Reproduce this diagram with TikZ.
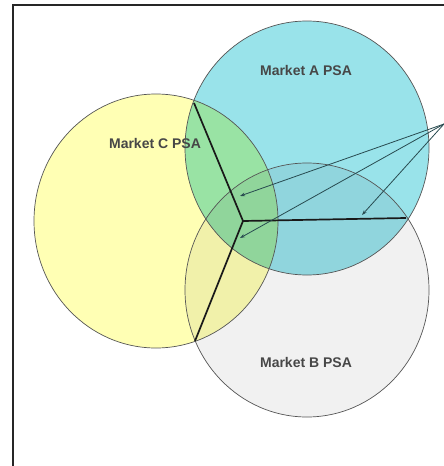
\documentclass[tikz,border=0pt]{standalone}
\usepackage{fontspec}
\setmainfont{Liberation Sans}
\usetikzlibrary{arrows.meta}
\definecolor{psacyan}{RGB}{142,224,232}
\definecolor{psayellow}{RGB}{255,255,180}
\definecolor{psagrey}{RGB}{241,241,241}
\definecolor{psaline}{RGB}{85,85,85}
\definecolor{psaarrow}{RGB}{40,75,80}

\begin{document}
\begin{tikzpicture}[x=1pt,y=-1pt,
  psalabel/.style={font=\fontsize{14}{16}\selectfont\bfseries,text=black!72},
  rim/.style={draw=psaline,line width=0.7pt},
  ridge/.style={line width=1.7pt,black!90},
  pointer/.style={line width=0.8pt,psaarrow,-{Stealth[length=5pt,width=3.5pt]}}]
\useasboundingbox (0,0) rectangle (444,466);
\fill[white] (0,0) rectangle (444,466);

% Frame
\draw[line width=2pt,black!85] (13,466) -- (13,5) -- (444,5);

% Centres of the PSA circles
\coordinate (cA) at (307,148);
\coordinate (cB) at (307,290);
\coordinate (cC) at (156,221);

% Filled areas
\begin{scope}[blend group=multiply]
\fill[psagrey] (cB) ellipse [x radius=122pt,y radius=127pt];
\fill[psayellow] (cC) ellipse [x radius=122pt,y radius=127pt];
\fill[psacyan,fill opacity=0.9] (cA) ellipse [x radius=122pt,y radius=127pt];
\end{scope}

% Outlines
\draw[rim] (cB) ellipse [x radius=122pt,y radius=127pt];
\draw[rim] (cC) ellipse [x radius=122pt,y radius=127pt];
\draw[rim] (cA) ellipse [x radius=122pt,y radius=127pt];

% Labels
\node[psalabel] (labA) at (306,70) {Market A PSA};
\node[psalabel] (labC) at (155,143) {Market C PSA};
\node[psalabel] (labB) at (306,362) {Market B PSA};

% Boundaries
\coordinate (hub) at (243,221);
\coordinate (pAC) at (194,103);
\coordinate (pAB) at (406,218);
\coordinate (pBC) at (195,341);
\draw[ridge] (pAC) -- (hub) -- (pAB);
\draw[ridge] (hub) -- (pBC);

% Arrows
\coordinate (src) at (444,124);
\coordinate (t1) at (240,196);
\coordinate (t2) at (240,238);
\coordinate (t3) at (362,215);
\draw[pointer] (src) -- (t1);
\draw[pointer] (src) -- (t2);
\draw[pointer] (src) -- (t3);
\end{tikzpicture}
\end{document}
